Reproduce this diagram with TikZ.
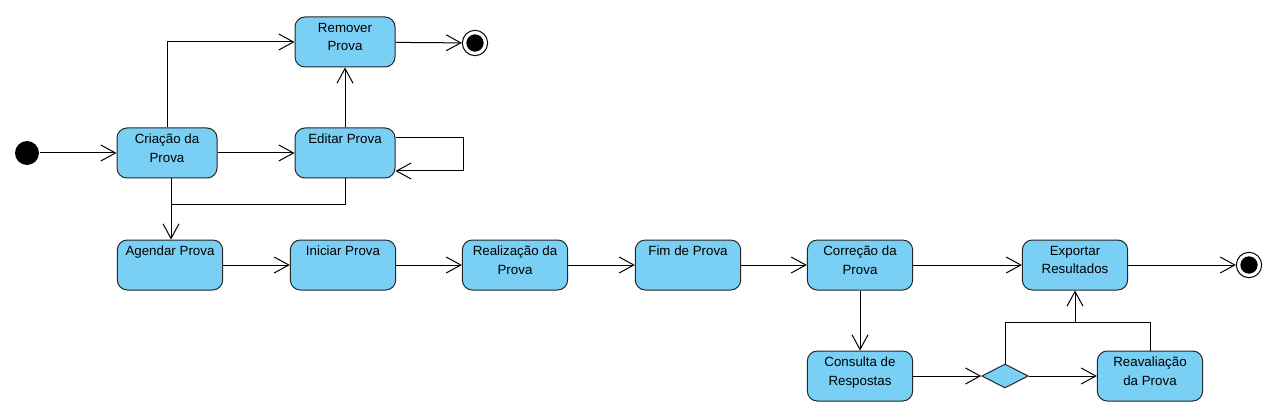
\documentclass[tikz,border=0pt]{standalone}
\usepackage{fontspec}
\setmainfont{Liberation Sans}
\usepackage{tikz}
\usetikzlibrary{arrows.meta, shapes.geometric}
\definecolor{azulcaixa}{RGB}{122,207,245}
\newcommand\rotulo[1]{\parbox[c][28.5pt][t]{75pt}{\centering #1}}

\begin{document}
\begin{tikzpicture}[x=0.75pt, y=-0.75pt, line width=0.75pt, >={Straight Barb[length=11pt,width=12pt]},
  acao/.style={draw=black!85, fill=azulcaixa, rounded corners=7.5pt, inner xsep=0pt, inner ysep=4.5pt, minimum width=75pt, minimum height=37.5pt, font=\fontsize{10}{14}\selectfont},
  larga/.style={acao, minimum width=79pt},
  inicio/.style={circle, fill=black, inner sep=0pt, minimum size=18pt},
  final/.style={circle, draw=black, fill=white, inner sep=0pt, minimum size=19pt, path picture={\fill[black] (path picture bounding box.center) circle (6.5pt);}},
  decisao/.style={diamond, draw=black!85, fill=azulcaixa, inner sep=0pt, minimum width=35pt, minimum height=18pt}]
\useasboundingbox (0,0) rectangle (1276,420);
\node[inicio] (ini) at (27,153) {};
\node[acao] (criacao) at (167,153) {\rotulo{Criação da\\Prova}};
\node[acao] (editar) at (345,153) {\rotulo{Editar Prova}};
\node[acao] (remover) at (345,42) {\rotulo{Remover\\Prova}};
\node[final] (fim1) at (475,43) {};
\node[larga] (agendar) at (170,265) {\rotulo{Agendar Prova}};
\node[larga] (iniciar) at (343,265) {\rotulo{Iniciar Prova}};
\node[larga] (realizacao) at (515,265) {\rotulo{Realização da\\Prova}};
\node[larga] (fimprova) at (688,265) {\rotulo{Fim de Prova}};
\node[larga] (correcao) at (860,265) {\rotulo{Correção da\\Prova}};
\node[larga] (exportar) at (1075,265) {\rotulo{Exportar\\Resultados}};
\node[final] (fim2) at (1249,265) {};
\node[larga] (consulta) at (860,376) {\rotulo{Consulta de\\Respostas}};
\node[decisao] (escolha) at (1005,376) {};
\node[larga] (reavaliacao) at (1150,376) {\rotulo{Reavaliação\\da Prova}};
\coordinate (j1) at (171,205);
\coordinate (j2) at (1075,322);
\draw [->] (ini) -- (criacao);
\draw [->] (criacao) -- (editar);
\draw [->] (criacao.north) |- (remover.west);
\draw [->] (editar.north) -- (remover.south);
\draw [->] (remover) -- (fim1);
\draw [->] ([yshift=11.25pt]editar.east) -- ++(68,0) |- ([yshift=-13.5pt]editar.east);
\draw (editar.south) |- (j1);
\draw [->] (criacao.south -| j1) -- (j1 |- agendar.north);
\draw [->] (agendar) -- (iniciar);
\draw [->] (iniciar) -- (realizacao);
\draw [->] (realizacao) -- (fimprova);
\draw [->] (fimprova) -- (correcao);
\draw [->] (correcao) -- (exportar);
\draw [->] (exportar) -- (fim2);
\draw [->] (correcao) -- (consulta);
\draw [->] (consulta) -- (escolha);
\draw [->] (escolha) -- (reavaliacao);
\draw (escolha.north) |- (j2);
\draw (reavaliacao.north) |- (j2);
\draw [->] (j2) -- (exportar.south);
\end{tikzpicture}
\end{document}
